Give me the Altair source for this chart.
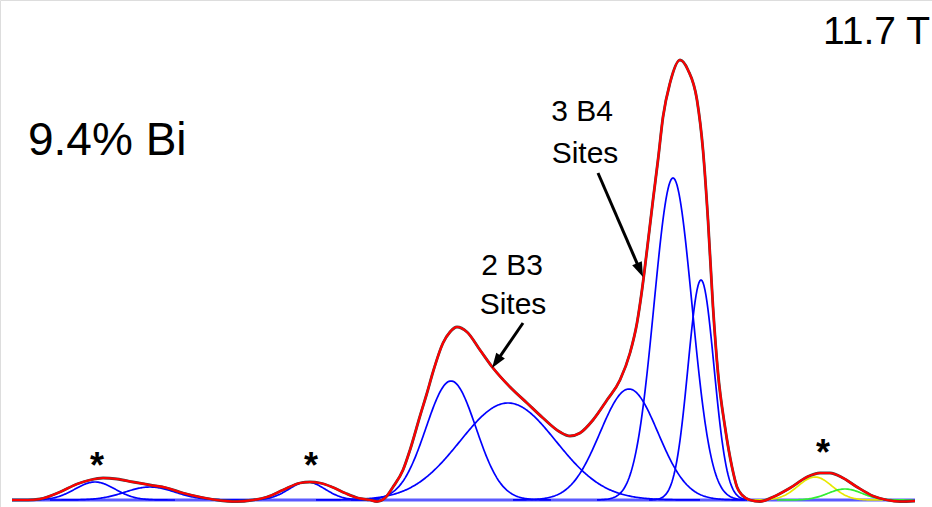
import altair as alt
import numpy as np
import pandas as pd

# ---- deconvolution components: centre, height, gaussian width ----
comp_names = ["ssb1a", "ssb1b", "ssb2", "B3a", "B3b", "B4a", "B4b", "B4c", "ssb3a", "ssb3b"]
comp_center = [95, 150, 307, 451, 508, 629, 673, 701, 815, 845]
comp_height = [18, 13, 18, 119, 97, 111, 322, 220, 23, 11]
comp_width = [20, 25, 18, 25, 48, 29, 19, 13, 17, 17]
comp_color = ["#0000ff"] * 8 + ["#e8e800", "#33ee33"]

# ---- total fit / spectrum ----
red_x = [12, 28, 40, 60, 77, 90, 103, 117, 133, 150, 167, 183, 200, 217, 237, 253, 267, 283, 300, 310,
         320, 332, 345, 358, 370, 377, 385, 393, 403, 410, 420, 427, 433, 443, 450, 457, 467, 480, 493,
         510, 527, 543, 560, 570, 580, 593, 607, 620, 630, 637, 642, 647, 653, 658, 663, 670, 680, 688,
         697, 703, 708, 713, 718, 725, 732, 737, 742, 750, 760, 773, 790, 807, 820, 830, 843, 857, 873,
         887, 900, 915]
red_y = [0, 0, 1, 8, 16, 20, 22, 21, 18, 15, 12, 7, 3, 0, -1.5, 0, 3, 10, 17, 18,
         17, 13, 7, 2, 0, -1.5, 2, 13, 30, 50, 84, 107, 128, 157, 168, 173, 168, 150, 132,
         113, 97, 82, 68, 64, 67, 80, 100, 120, 147, 177, 210, 250, 300, 340, 383, 417, 440, 430,
         400, 350, 280, 193, 127, 73, 33, 13, 5, 0, -1.5, 3, 12, 23, 27, 27, 22, 13, 4,
         0, -1.5, -1]

# ---- annotations ----
label_text = ["9.4% Bi", "11.7 T", "3 B4", "Sites", "2 B3", "Sites"]
label_x = [28, 930, 582, 585, 512, 513]
label_y = [345, 456, 379, 337, 225, 186]
label_size = [46, 39, 30, 30, 30, 30]
label_align = ["left", "right", "center", "center", "center", "center"]

star_x = [97, 311, 823]
star_y = [22, 22, 35]

arrow_x1 = [523, 598]
arrow_y1 = [177, 327]
arrow_x2 = [496.3, 640.0]
arrow_y2 = [138.2, 229.9]
arrow_angle = [214.5, 156.6]

base_start, base_end = 12, 915

W, H = 932, 507
xs = alt.Scale(domain=[0, 932], nice=False, zero=False)
ys = alt.Scale(domain=[-7, 500], nice=False, zero=False)

rows = []
for n, c, h, w, col in zip(comp_names, comp_center, comp_height, comp_width, comp_color):
    gx = np.arange(max(base_start, c - 4 * w), min(base_end, c + 4 * w) + 1, 1.0)
    gy = h * np.exp(-((gx - c) ** 2) / (2.0 * w * w))
    for a, b in zip(gx, gy):
        rows.append({"comp": n, "x": float(a), "y": float(b), "color": col})
comp_df = pd.DataFrame(rows)
red_df = pd.DataFrame({"x": red_x, "y": red_y})

base = alt.Chart(pd.DataFrame({"x": [base_start], "x2": [base_end], "y": [0]})).mark_rule(
    color="#5a5aff", strokeWidth=3
).encode(x=alt.X("x:Q", scale=xs, axis=None), x2="x2:Q", y=alt.Y("y:Q", scale=ys, axis=None))

comps = alt.Chart(comp_df).mark_line(strokeWidth=1.7).encode(
    x=alt.X("x:Q", scale=xs, axis=None),
    y=alt.Y("y:Q", scale=ys, axis=None),
    detail="comp:N",
    color=alt.Color("color:N", scale=None),
    order="x:Q",
)

black = alt.Chart(red_df).mark_line(color="#444444", strokeWidth=2.8, interpolate="monotone").encode(
    x=alt.X("x:Q", scale=xs, axis=None), y=alt.Y("y:Q", scale=ys, axis=None), order="x:Q"
)
red = alt.Chart(red_df).mark_line(color="#ff0000", strokeWidth=2.2, interpolate="monotone").encode(
    x=alt.X("x:Q", scale=xs, axis=None), y=alt.Y("y:Q", scale=ys, axis=None), order="x:Q"
)

lab_df = pd.DataFrame({"t": label_text, "x": label_x, "y": label_y, "s": label_size, "a": label_align})
texts = []
for al in ["left", "right", "center"]:
    sub = lab_df[lab_df.a == al]
    texts.append(
        alt.Chart(sub).mark_text(align=al, baseline="alphabetic", font="Liberation Sans", color="black").encode(
            x=alt.X("x:Q", scale=xs, axis=None),
            y=alt.Y("y:Q", scale=ys, axis=None),
            text="t:N",
            size=alt.Size("s:Q", scale=None),
        )
    )

stars = alt.Chart(pd.DataFrame({"x": star_x, "y": star_y})).mark_text(
    text="*", fontSize=36, fontWeight="bold", font="Liberation Sans", align="center", baseline="alphabetic",
    color="black",
).encode(x=alt.X("x:Q", scale=xs, axis=None), y=alt.Y("y:Q", scale=ys, axis=None))

arr_df = pd.DataFrame({"x1": arrow_x1, "y1": arrow_y1, "x2": arrow_x2, "y2": arrow_y2, "ang": arrow_angle})
arr_lines = alt.Chart(arr_df).mark_rule(color="black", strokeWidth=3).encode(
    x=alt.X("x1:Q", scale=xs, axis=None), y=alt.Y("y1:Q", scale=ys, axis=None), x2="x2:Q", y2="y2:Q"
)
arr_heads = alt.Chart(arr_df).mark_point(
    shape="M0,-1L0.7,1L-0.7,1Z", size=225, filled=True, color="black", opacity=1
).encode(
    x=alt.X("x2:Q", scale=xs, axis=None), y=alt.Y("y2:Q", scale=ys, axis=None),
    angle=alt.Angle("ang:Q", scale=None),
)

chart = alt.layer(base, comps, black, red, *texts, stars, arr_lines, arr_heads).properties(
    width=W, height=H, padding=0, autosize=alt.AutoSizeParams(type="none")
).configure_view(stroke=None).configure(background="white")

chart.save("out.html", embed_options={"renderer": "svg", "actions": False})
